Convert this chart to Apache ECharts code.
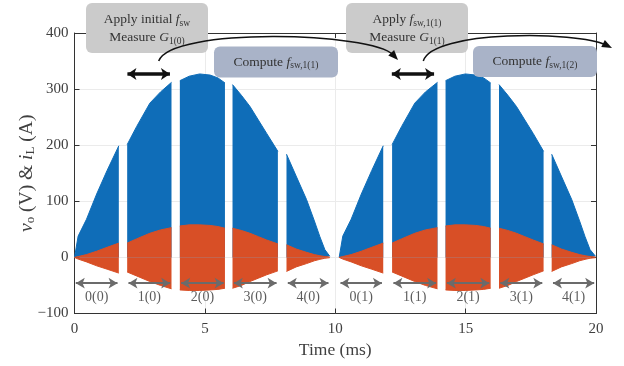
<!DOCTYPE html>
<html>
<head>
<meta charset="utf-8">
<script src="https://cdn.jsdelivr.net/npm/echarts@6/dist/echarts.min.js"></script>
<style>
  html, body { margin: 0; padding: 0; background: #fff; }
  #chart { width: 624px; height: 366px; }
</style>
</head>
<body>
<div id="chart"></div>
<script>
// ---------- data ----------
// time (ms); '-' marks a gap between measurement segments
const timeA = [0, 0.14, 0.46, 0.85, 1.25, 1.70, '-', 2.02, 2.38, 2.89, 3.30, 3.72, '-', 4.04, 4.40, 4.80, 5.20, 5.50, 5.77, '-', 6.06, 6.40, 6.73, 7.05, 7.37, 7.80, '-', 8.13, 8.50, 8.90, 9.20, 9.41, 9.60, 9.79];
const timeB = [10.15, 10.29, 10.61, 11.00, 11.40, 11.84, '-', 12.18, 12.54, 13.05, 13.46, 13.92, '-', 14.23, 14.59, 14.99, 15.39, 15.69, 15.96, '-', 16.28, 16.62, 16.95, 17.27, 17.59, 17.99, '-', 18.30, 18.67, 19.07, 19.37, 19.58, 19.77, 19.98];
// v_o envelope (V)
const voA = [0, 38, 68, 113, 155, 199, '-', 201, 233, 275, 295, 312, '-', 315, 323, 327, 325, 320, 311, '-', 308, 289, 269, 245, 221, 189, '-', 184, 145, 103, 65, 37, 14, 2];
const voB = [0, 38, 68, 113, 155, 199, '-', 201, 233, 275, 295, 312, '-', 315, 323, 327, 325, 320, 311, '-', 308, 289, 269, 245, 221, 189, '-', 184, 145, 103, 65, 37, 14, 2];
// i_L upper / lower envelope (A)
const iUpA = [0, 1.5, 5, 11, 18, 25.5, '-', 25.5, 33, 43, 49, 53, '-', 56, 58, 58, 57, 55, 52, '-', 52, 48, 43, 37, 31, 24, '-', 22.5, 15, 9, 5, 3, 1.5, 0.5];
const iUpB = [0, 1.5, 5, 11, 18, 25.5, '-', 25.5, 33, 43, 49, 53, '-', 56, 58, 58, 57, 55, 52, '-', 52, 48, 43, 37, 31, 24, '-', 22.5, 15, 9, 5, 3, 1.5, 0.5];
const iLoA = [0, -3, -8, -15, -21, -28, '-', -26, -33, -43, -50, -56, '-', -58, -59, -59, -58, -57, -55, '-', -55, -50, -43, -37, -31, -24, '-', -25, -17, -11, -6, -3.5, -1.5, -0.5];
const iLoB = [0, -3, -8, -15, -21, -28, '-', -26, -33, -43, -50, -56, '-', -58, -59, -59, -58, -57, -55, '-', -55, -50, -43, -37, -31, -24, '-', -25, -17, -11, -6, -3.5, -1.5, -0.5];

// segments
const segLabels = ['0(0)', '1(0)', '2(0)', '3(0)', '4(0)', '0(1)', '1(1)', '2(1)', '3(1)', '4(1)'];
const segStart = [0, 2.02, 4.04, 6.06, 8.13, 10.15, 12.18, 14.23, 16.28, 18.30];
const segEnd = [1.70, 3.72, 5.77, 7.80, 9.79, 11.84, 13.92, 15.96, 17.99, 19.98];
const segArrowY = -46;
const segLabelY = -71;

// measurement windows (black double arrows)
const measStart = [1.93, 12.07];
const measEnd = [3.76, 13.89];
const measY = 327;

// axis ticks
const xTicks = { min: 0, max: 20, interval: 5 };
const yTicks = { min: -100, max: 400, interval: 100 };

// ---------- build ----------
function zip(t, v) { return t.map((x, i) => [x, v[i]]); }
const voData = zip(timeA, voA).concat([['-', '-']], zip(timeB, voB));
const iUpData = zip(timeA, iUpA).concat([['-', '-']], zip(timeB, iUpB));
const iLoData = zip(timeA, iLoA).concat([['-', '-']], zip(timeB, iLoB));

const BLUE = '#0F6DB8';
const ORANGE = '#D84F26';
const FONT = '"Liberation Serif", "Times New Roman", serif';
const TXT = '#333333';

const chart = echarts.init(document.getElementById('chart'), null, { renderer: 'canvas' });

function areaSeries(data, color, z) {
  return {
    type: 'line', data: data, showSymbol: false, symbol: 'none', silent: true,
    connectNulls: false, z: z, animation: false,
    lineStyle: { color: color, width: 1 },
    areaStyle: { color: color, opacity: 1, origin: 'auto' }
  };
}

const subStyle = { fontFamily: FONT, fontSize: 9.5, color: TXT, verticalAlign: 'bottom', lineHeight: 9 };
const nStyle = { fontFamily: FONT, fontSize: 13.5, color: TXT, lineHeight: 17.5 };
const iStyle = { fontFamily: FONT, fontSize: 13.5, color: TXT, fontStyle: 'italic', lineHeight: 17.5 };
const boxRich = { n: nStyle, i: iStyle, s: subStyle };

function box(x, y, w, h, fill) {
  return { type: 'rect', z: 20, shape: { x: x, y: y, width: w, height: h, r: 6 }, style: { fill: fill } };
}
function boxText(cx, cy, text) {
  return {
    type: 'text', z: 21, x: cx, y: cy,
    style: { text: text, rich: boxRich, align: 'center', verticalAlign: 'middle', textAlign: 'center', textVerticalAlign: 'middle', fill: TXT, font: '13.5px ' + FONT }
  };
}
function curveArrow(p0, p1, p2, p3) {
  const dx = p3[0] - p2[0], dy = p3[1] - p2[1];
  const L = Math.sqrt(dx * dx + dy * dy);
  const ux = dx / L, uy = dy / L, nx = -uy, ny = ux;
  const bx = p3[0] - 10 * ux, by = p3[1] - 10 * uy;
  return [
    { type: 'bezierCurve', z: 22, shape: { x1: p0[0], y1: p0[1], cpx1: p1[0], cpy1: p1[1], cpx2: p2[0], cpy2: p2[1], x2: bx + 3 * ux, y2: by + 3 * uy }, style: { stroke: '#111', lineWidth: 1.5, fill: null } },
    { type: 'polygon', z: 22, shape: { points: [[p3[0], p3[1]], [bx + 4 * nx, by + 4 * ny], [bx - 4 * nx, by - 4 * ny]] }, style: { fill: '#111' } }
  ];
}

const option = {
  animation: false,
  backgroundColor: '#ffffff',
  grid: { left: 74.5, right: 28, top: 33, bottom: 52.5, containLabel: false, outerBoundsMode: 'none' },
  xAxis: [{
    type: 'value', min: xTicks.min, max: xTicks.max, interval: xTicks.interval, position: 'bottom',
    axisLine: { show: true, onZero: false, lineStyle: { color: '#333', width: 1 } },
    axisTick: { show: true, inside: true, length: 5, lineStyle: { color: '#333' } },
    axisLabel: { fontFamily: FONT, fontSize: 15, color: '#404040', margin: 8 },
    splitLine: { show: true, lineStyle: { color: '#ebebeb', width: 1 } },
    name: 'Time (ms)', nameLocation: 'middle', nameGap: 27.5, nameMoveOverlap: false,
    nameTextStyle: { fontFamily: FONT, fontSize: 17.5, color: '#404040' }
  }, {
    type: 'value', min: xTicks.min, max: xTicks.max, interval: xTicks.interval, position: 'top',
    axisLine: { show: true, onZero: false, lineStyle: { color: '#333', width: 1 } },
    axisTick: { show: true, inside: true, length: 5, lineStyle: { color: '#333' } },
    axisLabel: { show: false }, splitLine: { show: false }
  }],
  yAxis: [{
    type: 'value', min: yTicks.min, max: yTicks.max, interval: yTicks.interval, position: 'left',
    axisLine: { show: true, onZero: false, lineStyle: { color: '#333', width: 1 } },
    axisTick: { show: true, inside: true, length: 5, lineStyle: { color: '#333' } },
    axisLabel: { fontFamily: FONT, fontSize: 15, color: '#404040', margin: 6,
      formatter: v => (v < 0 ? '\u2212' + Math.abs(v) : String(v)) },
    splitLine: { show: true, lineStyle: { color: '#ebebeb', width: 1 } },
    name: '{i|v}{s|o}{n| (V) & }{i|i}{s|L}{n| (A)}', nameLocation: 'middle', nameGap: 37, nameRotate: 90,
    nameMoveOverlap: false,
    nameTextStyle: {
      color: '#404040',
      rich: {
        n: { fontFamily: FONT, fontSize: 19.5, color: '#404040', lineHeight: 22 },
        i: { fontFamily: FONT, fontSize: 19.5, color: '#404040', fontStyle: 'italic', lineHeight: 22 },
        s: { fontFamily: FONT, fontSize: 13, color: '#404040', verticalAlign: 'bottom', lineHeight: 12 }
      }
    }
  }, {
    type: 'value', min: yTicks.min, max: yTicks.max, interval: yTicks.interval, position: 'right',
    axisLine: { show: true, onZero: false, lineStyle: { color: '#333', width: 1 } },
    axisTick: { show: true, inside: true, length: 5, lineStyle: { color: '#333' } },
    axisLabel: { show: false }, splitLine: { show: false }
  }],
  series: [
    areaSeries(voData, BLUE, 2),
    areaSeries(iUpData, ORANGE, 3),
    areaSeries(iLoData, ORANGE, 3),
    {
      type: 'line', data: [], z: 5, silent: true,
      markLine: {
        silent: true, symbol: ['arrow', 'arrow'], symbolSize: [8, 9], animation: false,
        lineStyle: { color: '#6b6b6b', width: 2, type: 'solid' },
        label: { show: false },
        data: segStart.map((s, i) => [{ coord: [s + 0.05, segArrowY] }, { coord: [segEnd[i] - 0.05, segArrowY] }])
      }
    },
    {
      type: 'line', data: [], z: 6, silent: true,
      markLine: {
        silent: true, symbol: ['arrow', 'arrow'], symbolSize: [9, 9], animation: false,
        lineStyle: { color: '#111', width: 3.5, type: 'solid' },
        label: { show: false },
        data: measStart.map((s, i) => [{ coord: [s + 0.1, measY] }, { coord: [measEnd[i] - 0.1, measY] }])
      }
    },
    {
      type: 'scatter', symbolSize: 0, z: 6, silent: true,
      data: segStart.map((s, i) => [(s + segEnd[i]) / 2, segLabelY]),
      label: { show: true, position: 'inside', formatter: p => segLabels[p.dataIndex],
        fontFamily: FONT, fontSize: 14, color: TXT }
    }
  ],
  graphic: [
    box(86, 3, 122, 50, '#cbcbcb'),
    boxText(147, 28.5, '{n|Apply initial }{i|f}{s|sw}\n{n|Measure }{i|G}{s|1(0)}'),
    box(214, 46.5, 124, 31, '#a9b3c8'),
    boxText(276, 62, '{n|Compute }{i|f}{s|sw,1(1)}'),
    box(346, 3, 122, 50, '#cbcbcb'),
    boxText(407, 28.5, '{n|Apply }{i|f}{s|sw,1(1)}\n{n|Measure }{i|G}{s|1(1)}'),
    box(473, 46, 124, 31, '#a9b3c8'),
    boxText(535, 61.5, '{n|Compute }{i|f}{s|sw,1(2)}')
  ].concat(
    curveArrow([158.7, 61], [171, 27], [372, 32], [398, 60]),
    curveArrow([423.3, 61], [432, 30], [578, 31], [612, 48])
  )
};
chart.setOption(option);
</script>
</body>
</html>
